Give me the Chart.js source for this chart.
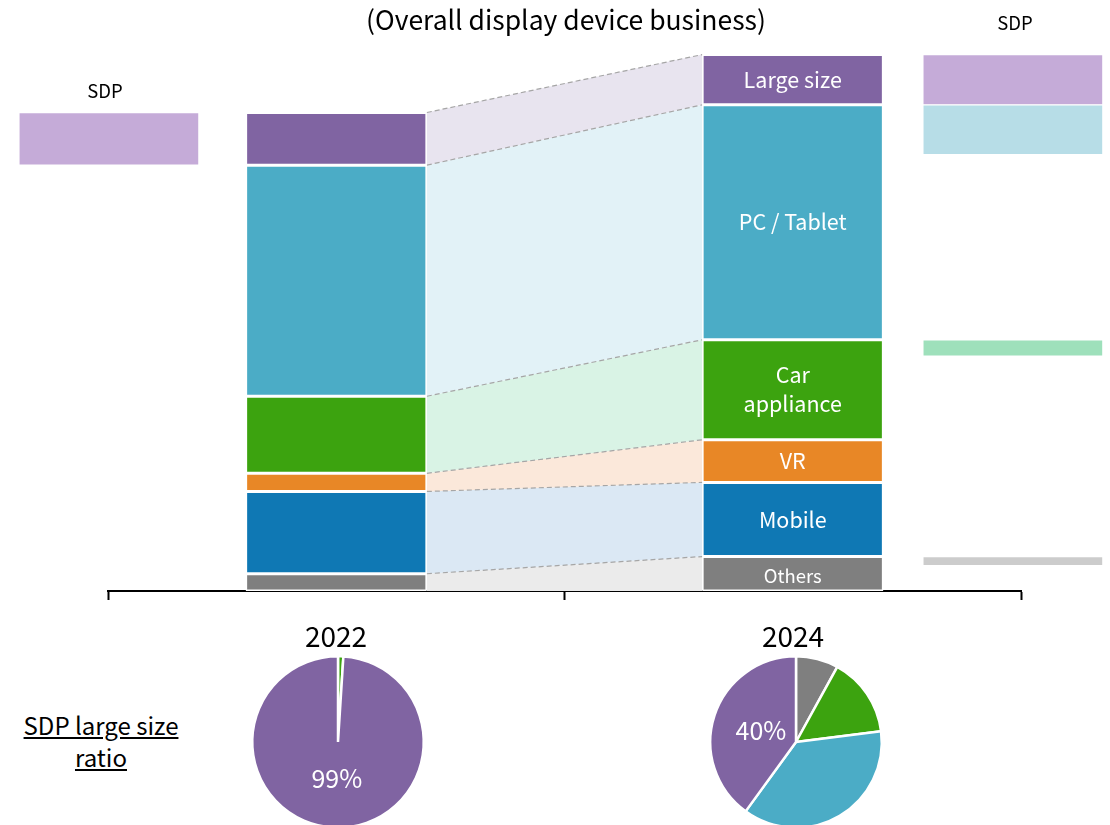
<!DOCTYPE html>
<html>
<head>
<meta charset="utf-8">
<script src="https://cdn.jsdelivr.net/npm/chart.js@4.4.1/dist/chart.umd.min.js"></script>
<style>
  body { margin: 0; background: #fff; width: 1110px; height: 825px; overflow: hidden; position: relative;
         font-family: "Noto Sans CJK JP", "Noto Sans", sans-serif; }
  canvas { position: absolute; }
  .txt { position: absolute; color: #000; white-space: nowrap; text-align: center; transform: translate(-50%, -50%); }
</style>
</head>
<body>
<canvas id="main" width="1110" height="610" style="left:0;top:0"></canvas>
<canvas id="pie22" width="200" height="200" style="left:238px;top:642px"></canvas>
<canvas id="pie24" width="200" height="200" style="left:696px;top:642px"></canvas>

<div class="txt" style="left:566px;top:18px;font-size:26.5px;line-height:27px">(Overall display device business)</div>
<div class="txt" style="left:105px;top:90px;font-size:18.5px;line-height:19px">SDP</div>
<div class="txt" style="left:1015px;top:22px;font-size:18.5px;line-height:19px">SDP</div>
<div class="txt" style="left:336px;top:635px;font-size:28px;line-height:28px">2022</div>
<div class="txt" style="left:793px;top:635px;font-size:28px;line-height:28px">2024</div>
<div class="txt" style="left:101px;top:741px;font-size:24px;line-height:32px;text-decoration:underline">SDP large size<br>ratio</div>

<script>
// segments, bottom to top
var categories = ['Others', 'Mobile', 'VR', 'Car\nappliance', 'PC / Tablet', 'Large size'];
var years = ['2022', '2024'];
// share of display device business (2022 total = 100)
var share2022 = [3.6, 17.2, 3.8, 16.1, 48.3, 11.0];
var share2024 = [7.2, 15.5, 8.9, 20.9, 49.1, 10.5];
// SDP part of each segment
var sdp2022 = [null, null, null, null, null, 11.0];
var sdp2024 = [1.9, null, null, 3.4, 10.4, 10.5];
// SDP large size ratio pies
var pieLabels = ['Others', 'Car appliance', 'PC / Tablet', 'Large size'];
var pie2022 = [0, 1, 0, 99];
var pie2024 = [8, 15, 37, 40];

var barColors = ['#7f7f7f', '#0f78b4', '#e88726', '#3ca30f', '#4bacc6', '#8064a2'];
var bandColors = ['#ebebeb', '#dbe8f4', '#fbe8da', '#d9f3e5', '#e2f2f7', '#e8e4ef'];
var sdpColors = ['#cccccc', null, null, '#9ee0bb', '#b7dde7', '#c5abd8'];
var pieColors = ['#7f7f7f', '#3ca30f', '#4bacc6', '#8064a2'];
var FONT = '"Noto Sans CJK JP", "Noto Sans", sans-serif';

var datasets = [];
for (var i = 0; i < categories.length; i++) {
  datasets.push({
    label: categories[i],
    data: [share2022[i], share2024[i]],
    backgroundColor: barColors[i],
    borderColor: '#fff',
    borderWidth: 1.5,
    borderSkipped: false,
    stack: 'all',
    grouped: false,
    barPercentage: 0.397,
    categoryPercentage: 1
  });
}

// SDP boxes sit at the top of their segment; side columns 0 (left) and 1 (right)
var top22 = 0, top24 = 0;
for (var i = 0; i < categories.length; i++) {
  top22 += share2022[i];
  top24 += share2024[i];
  if (!sdp2022[i] && !sdp2024[i]) continue;
  var pts = [];
  if (sdp2022[i]) pts.push({x: 0, y: [top22 - sdp2022[i], top22]});
  if (sdp2024[i]) pts.push({x: 1, y: [top24 - sdp2024[i], top24]});
  datasets.push({
    label: 'SDP ' + categories[i],
    data: pts,
    backgroundColor: sdpColors[i],
    borderColor: '#fff',
    borderWidth: 1,
    borderSkipped: false,
    stack: 'sdp',
    xAxisID: 'xs',
    yAxisID: 'ys',
    grouped: false,
    barThickness: 180,
    clip: false
  });
}

var bandPlugin = {
  id: 'bands',
  beforeDatasetsDraw: function(chart) {
    var ctx = chart.ctx;
    var segs = [];
    for (var i = 0; i < categories.length; i++) {
      var m = chart.getDatasetMeta(i);
      var a = m.data[0], b = m.data[1];
      segs.push({x0: a.x + a.width / 2, x1: b.x - b.width / 2, a: a, b: b});
    }
    ctx.save();
    segs.forEach(function(s, i) {
      ctx.beginPath();
      ctx.moveTo(s.x0, s.a.y);
      ctx.lineTo(s.x1, s.b.y);
      ctx.lineTo(s.x1, s.b.base);
      ctx.lineTo(s.x0, s.a.base);
      ctx.closePath();
      ctx.fillStyle = bandColors[i];
      ctx.fill();
    });
    ctx.setLineDash([5, 3]);
    ctx.strokeStyle = '#a6a6a6';
    ctx.lineWidth = 1.2;
    segs.forEach(function(s) {
      ctx.beginPath();
      ctx.moveTo(s.x0, s.a.y);
      ctx.lineTo(s.x1, s.b.y);
      ctx.stroke();
    });
    ctx.restore();
  },
  afterDatasetsDraw: function(chart) {
    var ctx = chart.ctx;
    ctx.save();
    ctx.fillStyle = '#fff';
    ctx.textAlign = 'center';
    ctx.textBaseline = 'middle';
    for (var i = 0; i < categories.length; i++) {
      var b = chart.getDatasetMeta(i).data[1];
      var lines = categories[i].split('\n');
      var size = i === 0 ? 18.5 : 21.5;
      ctx.font = size + 'px ' + FONT;
      var cy = (b.y + b.base) / 2 + (i === 0 ? 2 : 0);
      for (var k = 0; k < lines.length; k++) {
        ctx.fillText(lines[k], b.x, cy + (k - (lines.length - 1) / 2) * 29);
      }
    }
    ctx.restore();
  }
};

new Chart(document.getElementById('main'), {
  type: 'bar',
  data: { labels: years, datasets: datasets },
  options: {
    responsive: false,
    animation: false,
    layout: { padding: { top: 16.8, left: 108, right: 89, bottom: 10 } },
    plugins: { legend: { display: false }, tooltip: { enabled: false } },
    scales: {
      x: {
        stacked: true,
        offset: true,
        ticks: { display: false },
        grid: { drawOnChartArea: false, drawTicks: true, tickLength: 9, tickColor: '#000', tickWidth: 2, offset: true },
        border: { display: true, color: '#000', width: 2 }
      },
      y: { stacked: true, display: false, min: 0, max: 120 },
      xs: { type: 'linear', display: false, min: -0.001, max: 1.009, offset: false },
      ys: { stacked: false, display: false, min: 0, max: 120 }
    }
  },
  plugins: [bandPlugin]
});

var pctPlugin = {
  id: 'pct',
  afterDatasetsDraw: function(chart) {
    var data = chart.data.datasets[0].data;
    var last = data.length - 1;
    var arc = chart.getDatasetMeta(0).data[last];
    var mid = (arc.startAngle + arc.endAngle) / 2;
    var r = arc.outerRadius * 0.43;
    var ctx = chart.ctx;
    ctx.save();
    ctx.fillStyle = '#fff';
    ctx.textAlign = 'center';
    ctx.textBaseline = 'middle';
    ctx.font = '25px ' + FONT;
    ctx.fillText(data[last] + '%', arc.x + Math.cos(mid) * r, arc.y + Math.sin(mid) * r);
    ctx.restore();
  }
};

function makePie(id, values) {
  new Chart(document.getElementById(id), {
    type: 'pie',
    data: { labels: pieLabels, datasets: [{ data: values, backgroundColor: pieColors, borderColor: '#fff', borderWidth: 2.5 }] },
    options: {
      responsive: false,
      animation: false,
      layout: { padding: 13 },
      plugins: { legend: { display: false }, tooltip: { enabled: false } }
    },
    plugins: [pctPlugin]
  });
}
makePie('pie22', pie2022);
makePie('pie24', pie2024);
</script>
</body>
</html>
